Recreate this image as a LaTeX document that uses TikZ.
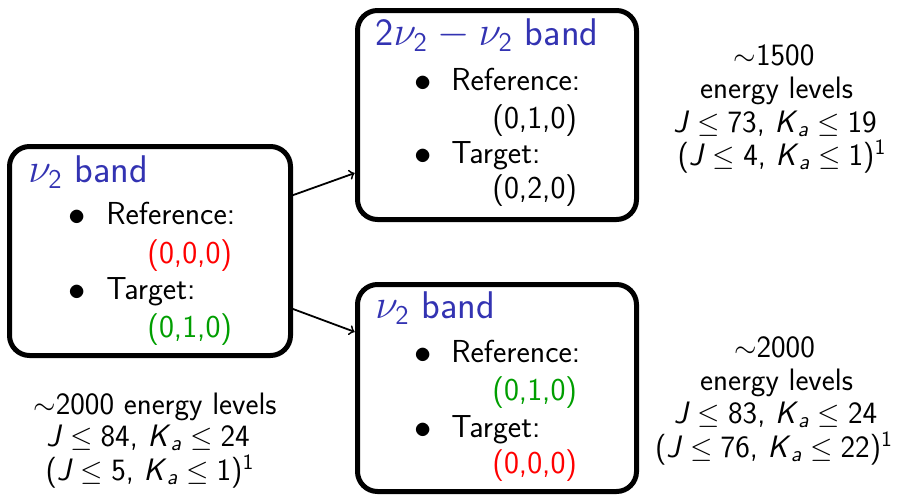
\documentclass[tikz,border=0pt]{standalone}
\usepackage{amsmath}
\usetikzlibrary{calc}
\definecolor{bandblue}{rgb}{0.2,0.2,0.7}
\definecolor{statered}{rgb}{1,0,0}
\definecolor{stategreen}{rgb}{0,0.62,0}
% symbols used in the labels
\newcommand{\ntwo}{\ensuremath{\nu_{\textsf{2}}}}
\newcommand{\Jq}{\textit{J}}
\newcommand{\Kaq}{\textit{K}\ensuremath{_{\textsf{\itshape a}}}}
\newcommand{\leqsp}{\ensuremath{\;\leq\;}}
\newcommand{\supone}{\ensuremath{^{\textsf{1}}}}
\begin{document}
\begin{tikzpicture}[x=0.5pt,y=-0.5pt,
  bandbox/.style={draw, line width=2.5pt, rounded corners=10pt, inner sep=0pt, outer sep=0pt},
  conn/.style={->, line width=0.9pt, shorten >=1.5pt},
  txt/.style={anchor=base west, inner sep=0pt, text height=11pt, text depth=3pt,
    font=\sffamily\fontsize{15.9}{19}\selectfont},
  bandtitle/.style={txt, text=bandblue, font=\sffamily\fontsize{19.3}{23}\selectfont},
  dot/.style={anchor=base, inner sep=0pt, font=\fontsize{17.5}{20}\selectfont},
  note/.style={anchor=base, inner sep=0pt, text height=10.5pt, text depth=3pt,
    font=\sffamily\fontsize{15.5}{18}\selectfont}]
\useasboundingbox (0,0) rectangle (914,503);

% the three band boxes
\node[bandbox, minimum width=140.5pt, minimum height=104.5pt] (lb) at (150,251) {};
\node[bandbox, minimum width=139.5pt, minimum height=104.5pt] (tb) at (497,115) {};
\node[bandbox, minimum width=139.5pt, minimum height=103.5pt] (bb) at (497,388) {};

% connectors
\coordinate (s1) at ($(lb.north east)!0.237!(lb.south east)$);
\coordinate (e1) at ($(tb.north west)!0.773!(tb.south west)$);
\coordinate (s2) at ($(lb.north east)!0.773!(lb.south east)$);
\coordinate (e2) at ($(bb.north west)!0.234!(bb.south west)$);
\draw[conn] (s1) -- (e1);
\draw[conn] (s2) -- (e2);

% left box contents
\node[bandtitle] (lbT) at (28,182) {\ntwo{} band};
\node[dot] (lbD1) at (77,225) {$\bullet$};
\node[txt] (lbR) at (106,224) {Reference:};
\node[txt, text=statered] (lbRv) at (147,263) {(0,0,0)};
\node[dot] (lbD2) at (77,300) {$\bullet$};
\node[txt] (lbG) at (106,299) {Target:};
\node[txt, text=stategreen] (lbGv) at (147,337) {(0,1,0)};

% top box contents
\node[bandtitle] (tbT) at (375,45) {\textsf{2}\ntwo${}-{}$\ntwo{} band};
\node[dot] (tbD1) at (423,91) {$\bullet$};
\node[txt] (tbR) at (451,90) {Reference:};
\node[txt] (tbRv) at (492,128) {(0,1,0)};
\node[dot] (tbD2) at (423,164) {$\bullet$};
\node[txt] (tbG) at (451,163) {Target:};
\node[txt] (tbGv) at (492,198) {(0,2,0)};

% bottom box contents
\node[bandtitle] (bbT) at (375,318) {\ntwo{} band};
\node[dot] (bbD1) at (423,363) {$\bullet$};
\node[txt] (bbR) at (451,362) {Reference:};
\node[txt, text=stategreen] (bbRv) at (492,400) {(0,1,0)};
\node[dot] (bbD2) at (423,438) {$\bullet$};
\node[txt] (bbG) at (451,437) {Target:};
\node[txt, text=statered] (bbGv) at (492,473) {(0,0,0)};

% level counts, upper right
\node[note] (n1a) at (774,65) {$\sim$1500};
\node[note] (n1b) at (776.5,98) {energy levels};
\node[note] (n1c) at (775,132) {\Jq\leqsp 73, \Kaq\leqsp 19};
\node[note] (n1d) at (782,165) {(\Jq\leqsp 4, \Kaq\leqsp 1)\supone};

% level counts, lower right
\node[note] (n2a) at (774.5,357) {$\sim$2000};
\node[note] (n2b) at (776.5,390) {energy levels};
\node[note] (n2c) at (775.5,423) {\Jq\leqsp 83, \Kaq\leqsp 24};
\node[note] (n2d) at (774,457) {(\Jq\leqsp 76, \Kaq\leqsp 22)\supone};

% level counts, lower left
\node[note] (n3a) at (155,414) {$\sim$2000 energy levels};
\node[note] (n3b) at (148,446) {\Jq\leqsp 84, \Kaq\leqsp 24};
\node[note] (n3c) at (150,480) {(\Jq\leqsp 5, \Kaq\leqsp 1)\supone};
\end{tikzpicture}
\end{document}
